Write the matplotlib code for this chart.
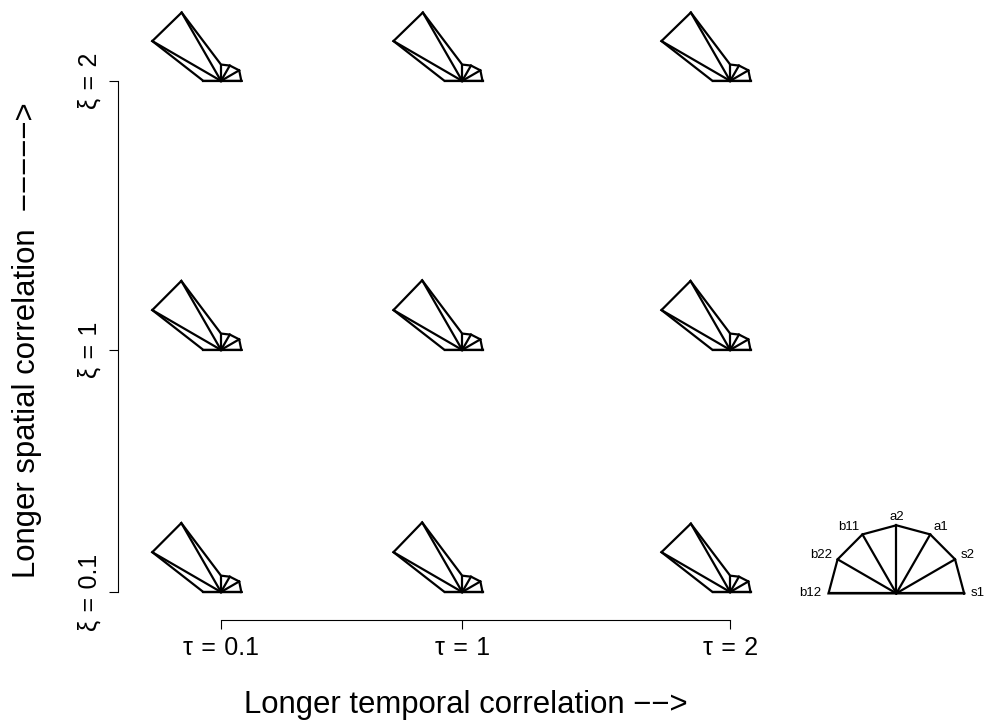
import numpy as np
import matplotlib
matplotlib.use("Agg")
import matplotlib.pyplot as plt

plt.rcParams['font.family'] = ['Liberation Sans', 'DejaVu Sans']

# grid of parameter settings
tau_vals = [0.1, 1, 2]
xi_vals = [0.1, 1, 2]
tau_labels = ["τ\u2004=\u20040.1", "τ\u2004=\u20041", "τ\u2004=\u20042"]
xi_labels = ["ξ\u2004=\u20040.1", "ξ\u2004=\u20041", "ξ\u2004=\u20042"]

# star variables, counter-clockwise from the right
var_names = ["s1", "s2", "a1", "a2", "b11", "b22", "b12"]

# star radii (in units of the key radius), one row per (tau, xi) cell
cell_tau = [0.1, 1, 2, 0.1, 1, 2, 0.1, 1, 2]
cell_xi = [0.1, 0.1, 0.1, 1, 1, 1, 2, 2, 2]
star_vals = [
    [0.30, 0.31, 0.26, 0.24, 1.17, 1.17, 0.26],
    [0.30, 0.31, 0.26, 0.24, 1.18, 1.17, 0.26],
    [0.30, 0.31, 0.26, 0.24, 1.16, 1.17, 0.26],
    [0.30, 0.31, 0.26, 0.24, 1.17, 1.17, 0.26],
    [0.30, 0.31, 0.26, 0.24, 1.18, 1.17, 0.26],
    [0.30, 0.31, 0.26, 0.24, 1.17, 1.17, 0.26],
    [0.30, 0.31, 0.26, 0.24, 1.16, 1.17, 0.26],
    [0.30, 0.31, 0.26, 0.24, 1.16, 1.17, 0.26],
    [0.30, 0.31, 0.26, 0.24, 1.16, 1.17, 0.26],
]

key_loc = (2.62, 0.095)
star_len = 0.253  # data units for a value of 1

angles = np.linspace(0, np.pi, len(var_names))


def draw_star(ax, cx, cy, vals, lw=1.6):
    r = np.asarray(vals) * star_len
    xs = cx + r * np.cos(angles)
    ys = cy + r * np.sin(angles)
    ax.plot(np.append(xs, xs[0]), np.append(ys, ys[0]), color="black", lw=lw,
            solid_joinstyle="miter", clip_on=False)
    for x, y in zip(xs, ys):
        ax.plot([cx, x], [cy, y], color="black", lw=lw, clip_on=False)
    return xs, ys


fig = plt.figure(figsize=(9.92, 7.2), dpi=100)
ax = fig.add_axes([0, 0, 1, 1])
ax.set_xlim(-0.7246, 2.977)
ax.set_ylim(-0.3758, 2.3007)
ax.patch.set_visible(False)

for t, x, v in zip(cell_tau, cell_xi, star_vals):
    draw_star(ax, t, x, v)

# key
kx, ky = key_loc
draw_star(ax, kx, ky, [1] * len(var_names), lw=1.6)
for name, a in zip(var_names, angles):
    c = np.cos(a)
    ha = "left" if c > 0.1 else ("right" if c < -0.1 else "center")
    ax.text(kx + 1.1 * star_len * c, ky + 1.12 * star_len * np.sin(a), name,
            ha=ha, va="center", fontsize=9.5)

# R-style axes
for side in ["top", "right"]:
    ax.spines[side].set_visible(False)
ax.spines["left"].set_position(("data", -0.2825))
ax.spines["bottom"].set_position(("data", -0.004))
ax.spines["left"].set_bounds(0.1, 2)
ax.spines["bottom"].set_bounds(0.1, 2)
for side in ["left", "bottom"]:
    ax.spines[side].set_linewidth(0.8)

ax.set_xticks(tau_vals)
ax.set_xticklabels(tau_labels, fontsize=18)
ax.set_yticks(xi_vals)
ax.set_yticklabels(xi_labels, fontsize=18, rotation=90, va="center")
ax.tick_params(direction="out", length=6.5, width=0.8)
ax.tick_params(axis="x", pad=5)
ax.tick_params(axis="y", pad=6)

fig.text(466 / 992, 1 - 713 / 720, "Longer temporal correlation −−>",
         ha="center", va="baseline", fontsize=22.4)
fig.text(27 / 992, 1 - 340 / 720, "Longer spatial correlation  −−−−−>",
         ha="center", va="center", fontsize=22.4, rotation=90)

fig.savefig("out.png", dpi=100)
